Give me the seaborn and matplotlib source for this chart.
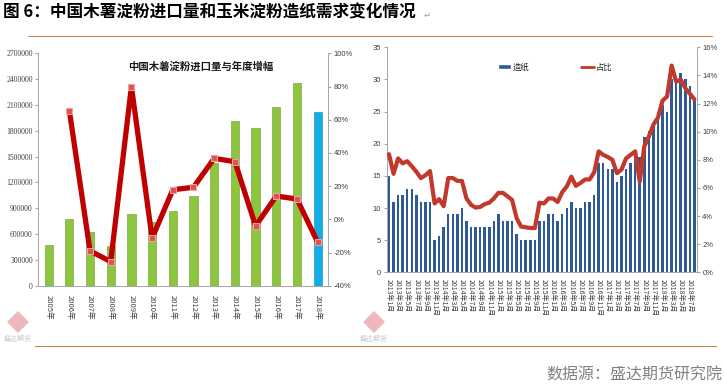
import numpy as np
import pandas as pd
import matplotlib
matplotlib.use("Agg")
import matplotlib.pyplot as plt
from matplotlib.patches import Patch, RegularPolygon
from matplotlib.lines import Line2D
from matplotlib.transforms import IdentityTransform
import seaborn as sns

# ---- data: left panel (annual cassava starch imports, tonnes + yoy %) ----
years = ["2005年", "2006年", "2007年", "2008年", "2009年", "2010年", "2011年",
         "2012年", "2013年", "2014年", "2015年", "2016年", "2017年", "2018年"]
imports = [470000, 775000, 628000, 465000, 837000, 742000, 872000,
           1046000, 1420000, 1910000, 1830000, 2080000, 2350000, 2020000]
growth = [np.nan, 65.5, -19.0, -25.5, 80.0, -11.4, 17.8,
          19.3, 36.7, 34.7, -4.0, 14.0, 12.2, -13.8]

# ---- data: right panel (monthly corn starch used in paper + share %) ----
months = [f"{y}年{m}月" for y in range(2013, 2019) for m in range(1, 13)][:68]
paper = [15, 11, 12, 12, 13, 13, 12, 11, 11, 11, 5, 5.6,
         7, 9, 9, 9, 10, 8, 7, 7, 7, 7, 7, 8,
         9, 8, 8, 8, 6, 5, 5, 5, 5, 8, 8, 9,
         9, 8, 9, 10, 11, 10, 10, 11, 11, 12, 17, 17,
         16, 16, 14, 15, 16, 17, 18, 18, 21, 22, 23, 24,
         26, 25, 30, 30, 31, 30, 29, 27]
share = [8.4, 7.0, 8.1, 7.75, 7.9, 7.55, 7.15, 6.7, 6.9, 7.2, 4.9, 5.2,
         4.7, 6.7, 6.7, 6.5, 6.5, 5.25, 4.8, 4.6, 4.65, 4.85, 4.95, 5.25,
         5.65, 5.65, 5.4, 5.15, 3.85, 3.25, 3.2, 3.15, 3.15, 4.95, 4.9, 5.25,
         5.25, 5.0, 5.7, 6.1, 6.8, 6.15, 6.35, 6.6, 6.6, 7.1, 8.6, 8.35,
         8.2, 8.0, 7.05, 7.3, 8.1, 8.35, 8.6, 6.45, 8.95, 9.65, 10.5, 11.0,
         12.2, 12.5, 14.7, 13.55, 13.7, 13.1, 12.7, 12.3]

GREEN = "#8CC63F"
CYAN = "#12ADE6"
NAVY = "#2F5A96"
DARKRED = "#C00000"
LINERED = "#C0392B"
AXIS = "#A6A6A6"
TXT = "#404040"

sns.set_style("white")
plt.rcParams["font.family"] = ["Noto Sans CJK SC", "DejaVu Sans"]

W, H = 724, 390
fig = plt.figure(figsize=(W / 100, H / 100), dpi=100)


def fx(px):
    return px / W


def fy(py):
    return 1 - py / H


# header / footer
fig.text(fx(3), fy(12), "图 6：中国木薯淀粉进口量和玉米淀粉造纸需求变化情况",
         fontsize=12, fontweight="bold", va="center", ha="left", color="black")
fig.text(fx(424), fy(15), "↵", fontsize=6, color="#999999", va="center",
         family=["DejaVu Sans"])
fig.add_artist(Line2D([fx(28), fx(712)], [fy(36), fy(36)], color="#C8894A", lw=0.8))
fig.add_artist(Line2D([fx(35), fx(716)], [fy(346), fy(346)], color="#C8894A", lw=0.8))
fig.text(fx(722), fy(375), "数据源：盛达期货研究院", fontsize=11.5, color="#808080",
         ha="right", va="center", style="italic")

# ---------------- left panel ----------------
ax1 = fig.add_axes([fx(38.3), fy(285.7), fx(328 - 38.3), (285.7 - 53.3) / H])
df1 = pd.DataFrame({"year": years, "imports": imports})
bar_colors = [GREEN] * (len(years) - 1) + [CYAN]
sns.barplot(data=df1, x="year", y="imports", hue="year", palette=bar_colors,
            width=0.4, dodge=False, legend=False, saturation=1,
            edgecolor="#6E9A2E", linewidth=0.4, ax=ax1)
ax1.patches[-1].set_edgecolor("#0A8CC0")
ax1.set_xlim(-0.5, len(years) - 0.5)
ax1.set_ylim(0, 2700000)
yt = list(range(0, 2700001, 300000))
ax1.set_yticks(yt)
ax1.set_yticklabels([str(v) for v in yt], family=["Liberation Serif"], fontsize=5.5, color=TXT)
ax1.set_xticks(range(len(years)))
ax1.set_xticklabels(years, rotation=-90, fontsize=5.5, color=TXT, va="top", ha="center")
ax1.set_xticks(np.arange(-0.5, len(years), 1), minor=True)
ax1.tick_params(axis="x", which="major", length=0, pad=7)
ax1.tick_params(axis="x", which="minor", length=3, color=AXIS, direction="out")
ax1.tick_params(axis="y", length=2, color=AXIS, pad=2, direction="out")
ax1.set_xlabel("")
ax1.set_ylabel("")
for s in ["top", "right"]:
    ax1.spines[s].set_visible(False)
for s in ["left", "bottom"]:
    ax1.spines[s].set_color(AXIS)
    ax1.spines[s].set_linewidth(0.7)

ax1b = ax1.twinx()
sns.lineplot(x=np.arange(len(years)), y=growth, ax=ax1b, color=DARKRED, lw=3.8,
             marker="s", markersize=5, markerfacecolor="#D9534F",
             markeredgecolor="#F0A0A0", markeredgewidth=0.8)
ax1b.set_xlim(-0.5, len(years) - 0.5)
ax1b.set_ylim(-40, 100)
gt = list(range(-40, 101, 20))
ax1b.set_yticks(gt)
ax1b.set_yticklabels([f"{v}%" for v in gt], family=["Liberation Sans"], fontsize=5.5, color=TXT)
ax1b.tick_params(axis="y", length=2, color=AXIS, pad=2, direction="out")
ax1b.set_ylabel("")
for s in ["top", "left", "bottom"]:
    ax1b.spines[s].set_visible(False)
ax1b.spines["right"].set_color(AXIS)
ax1b.spines["right"].set_linewidth(0.7)

ax1.text(0.561, 0.945, "中国木薯淀粉进口量与年度增幅", transform=ax1.transAxes,
         ha="center", va="center", fontsize=7.5, fontweight="bold", color="#1A1A1A")

# ---------------- right panel ----------------
ax2 = fig.add_axes([fx(386.7), fy(272.3), fx(696.7 - 386.7), (272.3 - 47.3) / H])
df2 = pd.DataFrame({"month": months, "paper": paper})
sns.barplot(data=df2, x="month", y="paper", color=NAVY, width=0.55,
            saturation=1, linewidth=0, ax=ax2)
ax2.set_xlim(-0.5, len(months) - 0.5)
ax2.set_ylim(0, 35)
ax2.set_yticks(range(0, 36, 5))
ax2.set_yticklabels([str(v) for v in range(0, 36, 5)], family=["Liberation Sans"],
                    fontsize=5.5, color=TXT)
ax2.set_xticks(range(0, len(months), 2))
ax2.set_xticklabels(months[::2], rotation=-90, fontsize=5, color=TXT, va="top", ha="center")
ax2.set_xticks(np.arange(-0.5, len(months), 1), minor=True)
ax2.tick_params(axis="x", which="major", length=0, pad=5)
ax2.tick_params(axis="x", which="minor", length=2.5, color=AXIS, direction="out")
ax2.tick_params(axis="y", length=2, color=AXIS, pad=2, direction="out")
ax2.set_xlabel("")
ax2.set_ylabel("")
for s in ["top", "right"]:
    ax2.spines[s].set_visible(False)
for s in ["left", "bottom"]:
    ax2.spines[s].set_color(AXIS)
    ax2.spines[s].set_linewidth(0.7)

ax2b = ax2.twinx()
sns.lineplot(x=np.arange(len(months)), y=share, ax=ax2b, color=LINERED, lw=3)
ax2b.set_xlim(-0.5, len(months) - 0.5)
ax2b.set_ylim(0, 16)
st = list(range(0, 17, 2))
ax2b.set_yticks(st)
ax2b.set_yticklabels([f"{v}%" for v in st], family=["Liberation Sans"], fontsize=5.5, color=TXT)
ax2b.tick_params(axis="y", length=2, color=AXIS, pad=2, direction="out")
ax2b.set_ylabel("")
for s in ["top", "left", "bottom"]:
    ax2b.spines[s].set_visible(False)
ax2b.spines["right"].set_color(AXIS)
ax2b.spines["right"].set_linewidth(0.7)

fig.legend(handles=[Patch(facecolor=NAVY, label="造纸")], loc="center left",
           bbox_to_anchor=(fx(490), fy(67)), frameon=False, fontsize=6,
           handlelength=1.6, handleheight=0.5, handletextpad=0.2)
fig.legend(handles=[Line2D([], [], color=LINERED, lw=2, label="占比")], loc="center left",
           bbox_to_anchor=(fx(573), fy(67)), frameon=False, fontsize=6,
           handlelength=1.6, handletextpad=0.2)

# faint logo watermarks (kept clear of the tick labels)
for lx, ly in [(18, 322), (374, 322)]:
    fig.add_artist(RegularPolygon((lx, H - ly), numVertices=4, radius=11,
                                  orientation=0, transform=IdentityTransform(),
                                  facecolor="#EBA5AC", edgecolor="none", alpha=0.8))
fig.text(fx(4), fy(338), "盛达期货", fontsize=5, color="#C8C8C8", va="center")
fig.text(fx(360), fy(338), "盛达期货", fontsize=5, color="#C8C8C8", va="center")

fig.savefig("out.png", dpi=100)
